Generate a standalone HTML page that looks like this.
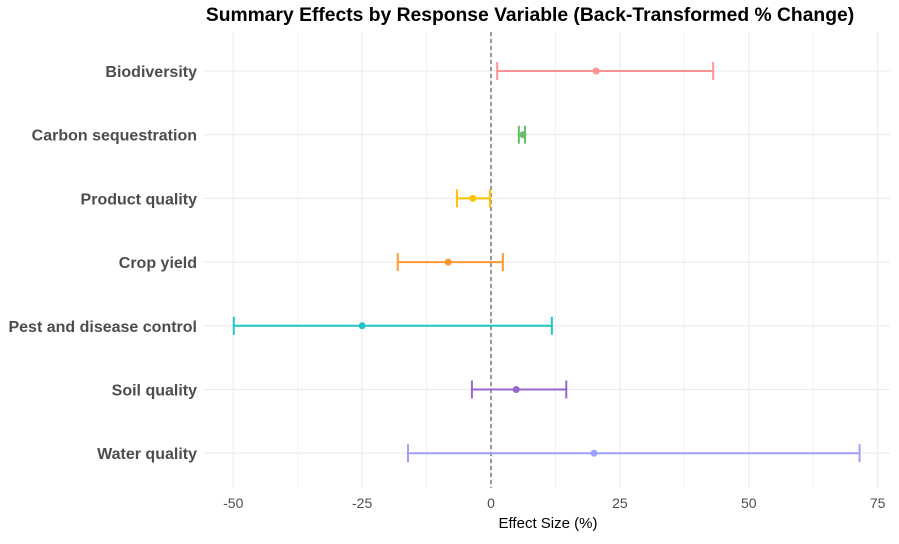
<!DOCTYPE html>
<html><head><meta charset="utf-8"><style>
body{margin:0;background:#fff;}
svg text{font-family:"Liberation Sans",sans-serif;}
</style></head><body>
<svg id="chart" width="899" height="539">
<text x="530" y="21" text-anchor="middle" font-size="19.3" font-weight="bold" fill="#000">Summary Effects by Response Variable (Back-Transformed % Change)</text>
<g id="grid"></g><g id="marks"></g><g id="labels"></g>
<text x="548" y="528" text-anchor="middle" font-size="15" fill="#000">Effect Size (%)</text>
</svg>
<script>
const categories=["Biodiversity","Carbon sequestration","Product quality","Crop yield","Pest and disease control","Soil quality","Water quality"];
const estimates=[20.4,6.2,-3.5,-8.3,-25,4.9,20];
const lowers=[1.2,5.4,-6.6,-18.1,-49.9,-3.7,-16.1];
const uppers=[43.1,6.6,-0.2,2.3,11.8,14.6,71.5];
const colors=["#FF9494","#66BF66","#FFC000","#FF9933","#22C4C8","#9966CC","#9E9EFF"];
const xTicks=[-50,-25,0,25,50,75];
const xMinor=[-37.5,-12.5,12.5,37.5,62.5];
const NS="http://www.w3.org/2000/svg";
const L=204,R=890,T=32,B=488;
const x=v=>491+v*5.155;
const y=i=>71+i*63.7;
function mk(tag,attrs,parent){const e=document.createElementNS(NS,tag);for(const k in attrs)e.setAttribute(k,attrs[k]);document.getElementById(parent).appendChild(e);return e;}
xMinor.forEach(v=>{const e=mk('line',{x1:x(v),x2:x(v),y1:T,y2:B,stroke:'#f2f2f2','stroke-width':1},'grid');

});
xTicks.forEach(v=>{const e=mk('line',{x1:x(v),x2:x(v),y1:T,y2:B,stroke:'#ebebeb','stroke-width':1.1},'grid');


const t=mk('text',{x:x(v),y:508,'text-anchor':'middle','font-size':14,fill:'#4d4d4d'},'labels');t.textContent=v;

});
categories.forEach((c,i)=>{const e=mk('line',{x1:L,x2:R,y1:y(i),y2:y(i),stroke:'#ebebeb','stroke-width':1.1},'grid');


const t=mk('text',{x:197,y:y(i)+6,'text-anchor':'end','font-size':16,'font-weight':'bold',fill:'#4d4d4d'},'labels');t.textContent=c;

});
const z=mk('line',{x1:x(0),x2:x(0),y1:T,y2:B,stroke:'#333','stroke-width':1,'stroke-dasharray':'4,3'},'marks');


categories.forEach((c,i)=>{const col=colors[i],yy=y(i);
const g=mk('g',{},'marks');


[[x(lowers[i]),yy,x(uppers[i]),yy],[x(lowers[i]),yy-9,x(lowers[i]),yy+9],[x(uppers[i]),yy-9,x(uppers[i]),yy+9]].forEach(a=>{const l=document.createElementNS(NS,'line');l.setAttribute('x1',a[0]);l.setAttribute('y1',a[1]);l.setAttribute('x2',a[2]);l.setAttribute('y2',a[3]);l.setAttribute('stroke',col);l.setAttribute('stroke-width',2);g.appendChild(l);});
const p=mk('circle',{cx:x(estimates[i]),cy:yy,r:3.5,fill:col},'marks');

});
</script>
</body></html>
